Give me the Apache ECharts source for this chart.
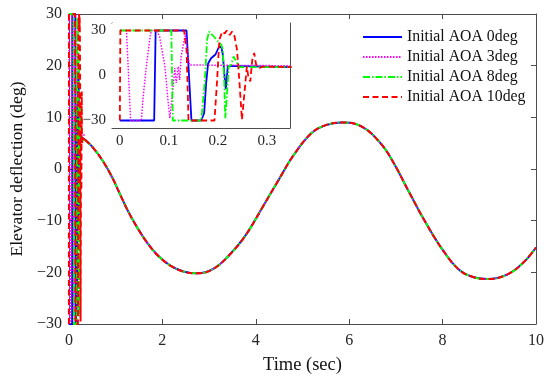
<!DOCTYPE html>
<html><head><meta charset="utf-8">
<script src="https://cdn.jsdelivr.net/npm/echarts@6/dist/echarts.min.js"></script>
<style>html,body{margin:0;padding:0;background:#fff}#c{width:550px;height:380px}</style>
</head><body><div id="c"></div>
<script>
// ---- Data ----
const seriesNames = ['Initial AOA 0deg', 'Initial AOA 3deg', 'Initial AOA 8deg', 'Initial AOA 10deg'];

// early switching phase (0 - 0.35 s)
const t0 = [0, 0.07, 0.073, 0.136, 0.146, 0.166, 0.172, 0.176, 0.18, 0.186, 0.195, 0.202, 0.207, 0.21, 0.213, 0.216, 0.218, 0.22, 0.227, 0.35];
const v0 = [-30, -30, 30, 30, -30, -30, -25, -5, 8, 11.5, 14, 19, 19, 14, 1.5, -9, -3, 6, 6.4, 5.6];

const t3 = [0, 0.0135, 0.022, 0.044, 0.047, 0.054, 0.061, 0.064, 0.075, 0.081, 0.092, 0.098, 0.102, 0.106, 0.11, 0.112, 0.115, 0.119, 0.122, 0.125, 0.13, 0.134, 0.137, 0.142, 0.35];
const v3 = [30, 30, -30, -30, -16, 6, 24, 30, 30, 26, 6, -16, -28.5, -28.5, -3, 5, -5, 6, -3, 12.7, 21.5, 28, 17, 7, 6.5];

const t8 = [0, 0.105, 0.108, 0.166, 0.173, 0.178, 0.182, 0.186, 0.193, 0.2, 0.207, 0.21, 0.213, 0.215, 0.218, 0.22, 0.222, 0.227, 0.232, 0.235, 0.239, 0.243, 0.35];
const v8 = [30, 30, -30, -30, -5, 24, 29.3, 28, 25.5, 22.7, 20.4, 17, -5, -28.5, -28.5, -5, 6, 7, 12.7, 13, 8.2, 5.6, 5.6];

const t10 = [0, 0.001, 0.131, 0.136, 0.138, 0.14, 0.193, 0.198, 0.203, 0.209, 0.214, 0.218, 0.224, 0.229, 0.234, 0.239, 0.244, 0.249, 0.253, 0.256, 0.259, 0.262, 0.266, 0.27, 0.274, 0.278, 0.285, 0.292, 0.35];
const v10 = [-30, 30, 30, 17, -5, -30, -30, -5, 24, 29.3, 28, 30, 27, 29.3, 26, 17, -5, -29.5, -29.5, -5, 6, -0.7, -4, 10.4, 15, 7, 5, 6, 5.6];

// common slow response after the transient (0.35 - 10 s)
const tLate = [0.35, 0.52, 0.73, 0.93, 1.11, 1.28, 1.46, 1.67, 1.91, 2.19, 2.47, 2.75, 3.08, 3.42, 3.77, 4.12, 4.47, 4.82, 5.2, 5.5, 5.83, 6.25, 6.67, 6.95, 7.29, 7.64, 7.99, 8.34, 8.65, 8.97, 9.39, 9.73, 10];
const vLate = [5.6, 4.1, 1.5, -1.7, -5.2, -8.4, -11.3, -14.2, -16.8, -18.8, -19.9, -20.2, -19.4, -16.8, -13.0, -7.8, -2.4, 2.8, 7.0, 8.5, 9.0, 8.3, 5.0, 1.2, -4.6, -10.4, -15.5, -19.4, -20.9, -21.3, -20.4, -18.1, -15.2];

const xTicksMain = [0, 2, 4, 6, 8, 10];
const yTicksMain = [-30, -20, -10, 0, 10, 20, 30];
const xTicksInset = [0, 0.1, 0.2, 0.3];
const yTicksInset = [-30, 0, 30];

// ---- Styles ----
const colors = ['#0000ff', '#ff00ff', '#00ff00', '#ff0000'];
const dashes = ['solid', [1.5, 1.5], [7, 2, 1.5, 2], [6, 3.5]];
const widths = [2, 1.6, 2, 2];
const early = [[t0, v0], [t3, v3], [t8, v8], [t10, v10]];
const zip = (a, b) => a.map((x, i) => [x, b[i]]);
const minus = v => String(v).replace('-', '\u2212');
const FONT = 'Liberation Serif';
const axisCol = '#4d4d4d';

const series = [];
for (let k = 0; k < 4; k++) {
  const ls = { color: colors[k], width: widths[k], type: dashes[k] };
  series.push({ name: seriesNames[k], type: 'line', xAxisIndex: 0, yAxisIndex: 0,
    data: zip(early[k][0], early[k][1]), showSymbol: false, symbol: 'none',
    lineStyle: ls, itemStyle: { color: colors[k] }, z: 2 + k, animation: false });
  series.push({ name: seriesNames[k], type: 'line', xAxisIndex: 0, yAxisIndex: 0,
    data: zip(tLate, vLate), showSymbol: false, symbol: 'none', smooth: 0.4,
    lineStyle: ls, itemStyle: { color: colors[k] }, z: 2 + k, animation: false });
  series.push({ name: seriesNames[k], type: 'line', xAxisIndex: 2, yAxisIndex: 2,
    data: zip(early[k][0], early[k][1]), showSymbol: false, symbol: 'none',
    lineStyle: { color: colors[k], width: widths[k] * 0.9, type: dashes[k] },
    itemStyle: { color: colors[k] }, z: 12 + k, animation: false });
}

const lineAx = { show: true, onZero: false, lineStyle: { color: axisCol, width: 1 } };
const tickIn = { show: true, inside: true, length: 5, lineStyle: { color: axisCol } };
const lab = { color: '#262626', fontFamily: FONT, fontSize: 16 };

const option = {
  animation: false,
  backgroundColor: '#fff',
  grid: [
    { left: 58, right: 14, top: 14, bottom: 55, containLabel: false },
    { left: 112, top: 23, width: 178, height: 105, show: true, backgroundColor: '#fff', borderWidth: 0, z: 10 }
  ],
  legend: {
    data: seriesNames, orient: 'vertical', left: 362, top: 29, padding: 0,
    itemWidth: 39, itemHeight: 14, itemGap: 4,
    itemStyle: { opacity: 0 },
    textStyle: { fontFamily: FONT, fontSize: 15.8, color: '#111', lineHeight: 14 },
    z: 20
  },
  xAxis: [
    { type: 'value', gridIndex: 0, min: 0, max: 10, interval: 2, position: 'bottom',
      axisLine: lineAx, axisTick: tickIn, splitLine: { show: false },
      axisLabel: Object.assign({ margin: 9, formatter: v => minus(v) }, lab),
      name: 'Time (sec)', nameLocation: 'middle', nameGap: 32,
      nameTextStyle: { fontFamily: FONT, fontSize: 18.5, color: '#111' } },
    { type: 'value', gridIndex: 0, min: 0, max: 10, interval: 2, position: 'top',
      axisLine: lineAx, axisTick: tickIn, axisLabel: { show: false }, splitLine: { show: false } },
    { type: 'value', gridIndex: 1, min: -0.016, max: 0.347, position: 'bottom',
      axisLine: lineAx, splitLine: { show: false },
      axisTick: Object.assign({}, tickIn, { length: 4, customValues: xTicksInset }),
      axisLabel: { customValues: xTicksInset, margin: 6, color: '#262626', fontFamily: FONT, fontSize: 15,
        formatter: v => minus(Math.round(v * 10) / 10) } },
    { type: 'value', gridIndex: 1, min: -0.016, max: 0.347, position: 'top',
      axisLine: lineAx, splitLine: { show: false },
      axisTick: Object.assign({}, tickIn, { length: 4, customValues: xTicksInset }),
      axisLabel: { show: false } }
  ],
  yAxis: [
    { type: 'value', gridIndex: 0, min: -30, max: 30, interval: 10, position: 'left',
      axisLine: lineAx, axisTick: tickIn, splitLine: { show: false },
      axisLabel: Object.assign({ margin: 7, formatter: v => minus(v) }, lab),
      name: 'Elevator deflection (deg)', nameLocation: 'middle', nameGap: 39, nameRotate: 90,
      nameTextStyle: { fontFamily: FONT, fontSize: 17.5, color: '#111' } },
    { type: 'value', gridIndex: 0, min: -30, max: 30, interval: 10, position: 'right',
      axisLine: lineAx, axisTick: tickIn, axisLabel: { show: false }, splitLine: { show: false } },
    { type: 'value', gridIndex: 1, min: -35, max: 35, position: 'left',
      axisLine: lineAx, splitLine: { show: false },
      axisTick: Object.assign({}, tickIn, { length: 4, customValues: yTicksInset }),
      axisLabel: { customValues: yTicksInset, margin: 6, color: '#262626', fontFamily: FONT, fontSize: 15,
        formatter: v => minus(v) } },
    { type: 'value', gridIndex: 1, min: -35, max: 35, position: 'right',
      axisLine: lineAx, splitLine: { show: false },
      axisTick: Object.assign({}, tickIn, { length: 4, customValues: yTicksInset }),
      axisLabel: { show: false } }
  ],
  series: series
};
const chart = echarts.init(document.getElementById('c'), null, { renderer: 'canvas' });
chart.setOption(option);
</script></body></html>
